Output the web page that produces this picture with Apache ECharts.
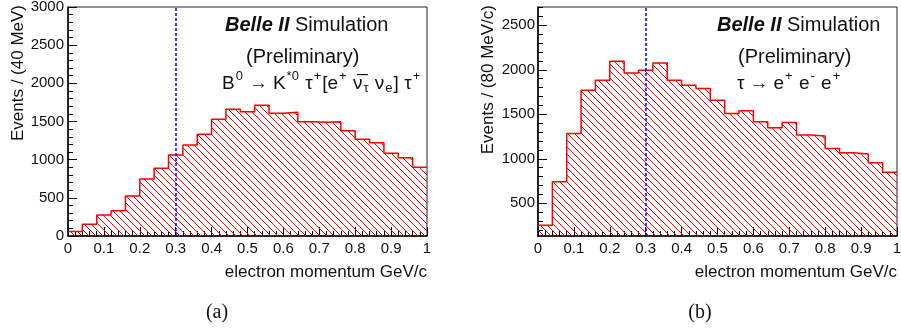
<!DOCTYPE html>
<html>
<head>
<meta charset="utf-8">
<title>electron momentum</title>
<script src="https://cdn.jsdelivr.net/npm/echarts@6/dist/echarts.min.js"></script>
<style>
    html, body { margin: 0; padding: 0; background: #fff; }
    #chartmain { width: 901px; height: 328px; }
</style>
</head>
<body>
<div id="chartmain"></div>
<script type="text/javascript">

    // bin edges (40 MeV bins)
    var binEdges = [0, 0.04, 0.08, 0.12, 0.16, 0.20, 0.24, 0.28, 0.32, 0.36, 0.40, 0.44, 0.48,
        0.52, 0.56, 0.60, 0.64, 0.68, 0.72, 0.76, 0.80, 0.84, 0.88, 0.92, 0.96, 1.00];

    // (a) B0 -> K*0 tau tau
    var eventsA = [60, 153, 275, 332, 524, 747, 887, 1061, 1192, 1334, 1529, 1660, 1629,
        1712, 1607, 1620, 1497, 1490, 1497, 1380, 1266, 1223, 1083, 1026, 900];

    // (b) tau -> e e e
    var eventsB = [253, 742, 1285, 1771, 1883, 2096, 1965, 1995, 2077, 1883, 1827, 1790, 1659,
        1510, 1539, 1415, 1348, 1409, 1266, 1255, 1117, 1067, 1053, 955, 848];

    var cutValue = 0.3;

    // y axis of (b) does not start at 0
    var yRangeB = [133, 2705];
    var yLabelsB = [500, 1000, 1500, 2000, 2500];
    var yMinorB = [200, 300, 400, 600, 700, 800, 900, 1100, 1200, 1300, 1400, 1600, 1700, 1800,
        1900, 2100, 2200, 2300, 2400, 2600, 2700];

    var F = "'Liberation Sans', Arial, Helvetica, sans-serif";
    var SERIF = "'Liberation Serif', 'DejaVu Serif', serif";

    function plain(v) { return String(v); }

    function steps(vals) {
        var d = [];
        for (var i = 0; i < vals.length; i++) d.push([binEdges[i], vals[i]]);
        d.push([binEdges[vals.length], vals[vals.length - 1]]);
        return d;
    }

    // red hatch 3004 style
    function hatch() {
        var s = 7;
        var c = document.createElement('canvas');
        c.width = s; c.height = s;
        var ctx = c.getContext('2d');
        ctx.strokeStyle = '#ff0000';
        ctx.lineWidth = 1;
        [-s, 0, s].forEach(function (k) {
            ctx.beginPath();
            ctx.moveTo(k - 1, -1);
            ctx.lineTo(k + s + 1, s + 1);
            ctx.stroke();
        });
        return c;
    }
    var hatchImg = hatch();

    function xAx(gi) {
        return {
            type: 'value', gridIndex: gi, min: 0, max: 1, interval: 0.1,
            axisLine: { show: true, onZero: false, lineStyle: { color: '#000', width: 1.5 } },
            axisTick: { inside: true, length: 9, lineStyle: { color: '#000' } },
            minorTick: { show: true, splitNumber: 5, length: 5, lineStyle: { color: '#000' } },
            axisLabel: { margin: 5, color: '#111', fontSize: 15, fontFamily: F, formatter: plain },
            splitLine: { show: false }
        };
    }

    function histSeries(xi, yi, vals) {
        return {
            type: 'line', xAxisIndex: xi, yAxisIndex: yi,
            data: steps(vals), step: 'end', showSymbol: false, silent: true,
            lineStyle: { color: '#ff0000', width: 1.5 },
            areaStyle: { origin: 'start', opacity: 1, color: { image: hatchImg, repeat: 'repeat' } },
            markLine: {
                silent: true, symbol: ['none', 'none'], label: { show: false },
                lineStyle: { color: '#0000ff', type: [3, 2], width: 1.5 },
                data: [{ xAxis: cutValue }]
            },
            z: 3
        };
    }

    var rich = {
        n: { fontSize: 19, fontFamily: F, color: '#111' },
        sp: { fontSize: 19, fontFamily: F, color: '#111', padding: [0, 5, 0, 5] },
        sup: { fontSize: 13, fontFamily: F, color: '#111', padding: [0, 1, 15, 1] },
        sub: { fontSize: 13, fontFamily: F, color: '#111', padding: [9, 1, 0, 1] },
        b: { fontSize: 20, fontFamily: F, fontWeight: 'bold', fontStyle: 'italic', color: '#111' },
        r: { fontSize: 20, fontFamily: F, color: '#111' }
    };

    function txt(x, y, text, extra) {
        var el = {
            type: 'text', x: x, y: y, silent: true, z: 100,
            style: { text: text, rich: rich, fontFamily: F, fontSize: 20, fill: '#111', align: 'left', verticalAlign: 'middle' }
        };
        if (extra) {
            for (var k in extra.style || {}) el.style[k] = extra.style[k];
            if (extra.rotation) el.rotation = extra.rotation;
        }
        return el;
    }

    var myChart = echarts.init(document.getElementById('chartmain'), null, { renderer: 'canvas' });

    myChart.setOption({
        animation: false,
        backgroundColor: '#fff',
        grid: [
            { left: 68, top: 7, width: 359, height: 229, show: true, borderColor: '#222', borderWidth: 1, outerBoundsMode: 'none' },
            { left: 538, top: 7, width: 359, height: 229, show: true, borderColor: '#222', borderWidth: 1, outerBoundsMode: 'none' }
        ],
        xAxis: [xAx(0), xAx(1)],
        yAxis: [
            {
                type: 'value', gridIndex: 0, min: 0, max: 3000, interval: 500,
                axisLine: { show: true, onZero: false, lineStyle: { color: '#000', width: 1.5 } },
                axisTick: { inside: true, length: 9, lineStyle: { color: '#000' } },
                minorTick: { show: true, splitNumber: 5, length: 5, lineStyle: { color: '#000' } },
                axisLabel: { margin: 4, color: '#111', fontSize: 15, fontFamily: F, formatter: plain },
                splitLine: { show: false }
            },
            {
                type: 'value', gridIndex: 1, min: yRangeB[0], max: yRangeB[1],
                axisLine: { show: true, onZero: false, lineStyle: { color: '#000', width: 1.5 } },
                axisTick: { inside: true, length: 9, customValues: yLabelsB, lineStyle: { color: '#000' } },
                axisLabel: { margin: 3, color: '#111', fontSize: 15, fontFamily: F, customValues: yLabelsB, formatter: plain },
                splitLine: { show: false }
            },
            {
                // minor ticks for (b)
                type: 'value', gridIndex: 1, min: yRangeB[0], max: yRangeB[1], position: 'left',
                axisLine: { show: false },
                axisTick: { inside: true, length: 5, customValues: yMinorB, lineStyle: { color: '#000' } },
                axisLabel: { show: false },
                splitLine: { show: false }
            }
        ],
        series: [
            histSeries(0, 0, eventsA),
            histSeries(1, 1, eventsB)
        ],
        graphic: {
            elements: [
                txt(225, 25, '{b|Belle II} {r|Simulation}'),
                txt(246, 57, '(Preliminary)'),
                txt(222, 84, '{n|B}{sup|0}{sp|\u2192}{n|K}{sup|*0}{n| \u03c4}{sup|+}{n|[e}{sup|+}{n| \u03bd\u0305}{sub|\u03c4}{n| \u03bd}{sub|e}{n|] \u03c4}{sup|+}'),
                txt(717, 25, '{b|Belle II} {r|Simulation}'),
                txt(738, 57, '(Preliminary)'),
                txt(737, 84, '{n|\u03c4}{sp|\u2192}{n|e}{sup|+}{n| e}{sup|-}{n| e}{sup|+}'),
                txt(18, 5, 'Events / (40 MeV)', { style: { fontSize: 17, align: 'right' }, rotation: Math.PI / 2 }),
                txt(488, 5, 'Events / (80 MeV/c)', { style: { fontSize: 17, align: 'right' }, rotation: Math.PI / 2 }),
                txt(427, 272, 'electron momentum GeV/c', { style: { fontSize: 17, align: 'right' } }),
                txt(897, 272, 'electron momentum GeV/c', { style: { fontSize: 17, align: 'right' } }),
                txt(217, 313, '(a)', { style: { fontSize: 20, align: 'center', fontFamily: SERIF } }),
                txt(700, 313, '(b)', { style: { fontSize: 20, align: 'center', fontFamily: SERIF } })
            ]
        }
    });

</script>
</body>
</html>
